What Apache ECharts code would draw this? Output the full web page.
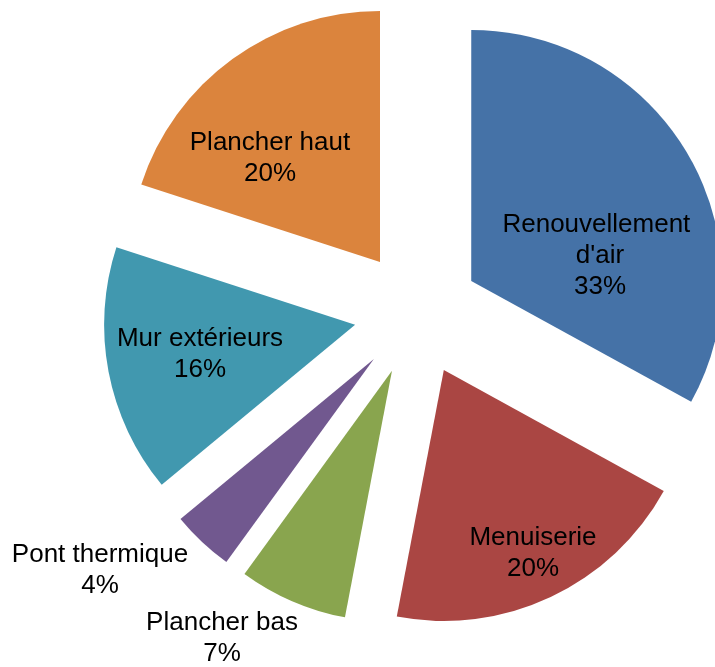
<!DOCTYPE html>
<html>
<head>
<meta charset="utf-8">
<script src="https://cdn.jsdelivr.net/npm/echarts@6/dist/echarts.min.js"></script>
<style>
  html, body { margin: 0; padding: 0; background: #fff; }
  #chart { width: 715px; height: 667px; }
</style>
</head>
<body>
<div id="chart"></div>
<script>
  // données (sens horaire depuis midi)
  const categories = ['Renouvellement d\'air', 'Menuiserie', 'Plancher bas', 'Pont thermique', 'Mur extérieurs', 'Plancher haut'];
  const values = [33, 20, 7, 4, 16, 20];
  const colors = ['#4572A7', '#AA4643', '#89A54E', '#71588F', '#4198AF', '#DB843D'];

  // centre des blocs de texte des étiquettes
  const labelPos = [[600, 256], [533, 553], [222, 638], [100, 570], [200, 354], [270, 158]];

  const cx = 417, cy = 313, radius = 251, explode = 63;
  const total = values.reduce((a, b) => a + b, 0);

  const chart = echarts.init(document.getElementById('chart'));

  // une série par part, décalée le long de sa bissectrice (pie éclaté)
  let before = 0;
  const series = categories.map((name, i) => {
    const mid = (before + values[i] / 2) / total * 2 * Math.PI;
    const gap = { value: before, name: '_a', itemStyle: { color: 'transparent' }, label: { show: false } };
    const rest = { value: total - before - values[i], name: '_b', itemStyle: { color: 'transparent' }, label: { show: false } };
    before += values[i];
    return {
      type: 'pie',
      center: [cx + explode * Math.sin(mid), cy - explode * Math.cos(mid)],
      radius: [0, radius],
      startAngle: 90,
      clockwise: true,
      silent: true,
      avoidLabelOverlap: false,
      data: [gap, { name: name, value: values[i], itemStyle: { color: colors[i] } }, rest],
      label: {
        show: true,
        position: 'inside',
        formatter: '{b}\n{c}%',
        width: 210,
        overflow: 'break',
        color: '#000',
        fontFamily: 'Liberation Sans, Arial, sans-serif',
        fontSize: 26,
        lineHeight: 31,
        align: 'center'
      },
      labelLine: { show: false },
      labelLayout: function () {
        const p = labelPos[i];
        return { x: p[0], y: p[1], align: 'center', verticalAlign: 'middle' };
      }
    };
  });

  chart.setOption({ animation: false, series: series });
</script>
</body>
</html>
